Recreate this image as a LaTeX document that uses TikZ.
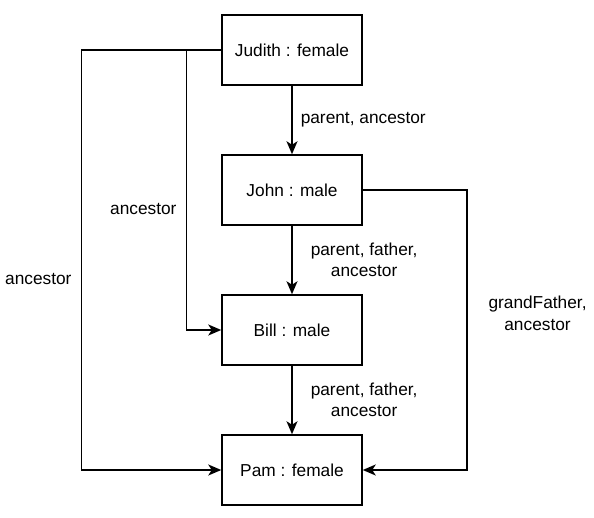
\documentclass[tikz,border=0pt]{standalone}
\usepackage{fontspec}
\setmainfont{Liberation Sans}
\usetikzlibrary{positioning,arrows.meta}

\begin{document}
\begin{tikzpicture}
  [
    x=1pt, y=-1pt,
    >={Stealth[length=13pt, width=11pt, inset=3.5pt]},
    every path/.style = {line width = 1.5pt},
    person/.style = {draw, rectangle, minimum width = 140pt, minimum height = 70pt,
                     font = \fontsize{17.3}{21.5}\selectfont},
    rel/.style    = {inner sep = 0pt, align = center, font = \fontsize{17.3}{21.5}\selectfont},
  ]
  \useasboundingbox (0,0) rectangle (594,517);

  % the family: one box per person
  \node (judith) at (292,50)  [person] {Judith : female};
  \node (john)   at (292,190) [person] {John : male};
  \node (bill)   at (292,330) [person] {Bill : male};
  \node (pam)    at (292,470) [person] {Pam : female};

  % direct links down the middle
  \draw[->] (judith) -- node (pa1) [rel, right = 8pt] {parent, ancestor} (john);
  \draw[->] (john) -- node (pfa1) [rel, right = 18pt] {parent, father,\\ancestor} (bill);
  \draw[->] (bill) -- node (pfa2) [rel, right = 18pt] {parent, father,\\ancestor} (pam);

  % longer links round the side
  \draw[->] (judith.west) -- ++(-140,0) |- node (anc1) [rel, pos = .273, left = 9pt] {ancestor} (pam.west);
  \draw[->] (judith.west) -- ++(-35,0) |- node (anc2) [rel, pos = .284, left = 9pt] {ancestor} (bill.west);
  \draw[->] (john.east) -- ++(104,0) |- node (gfa) [rel, pos = .22, right = 21pt] {grandFather,\\ancestor} (pam.east);
\end{tikzpicture}
\end{document}
